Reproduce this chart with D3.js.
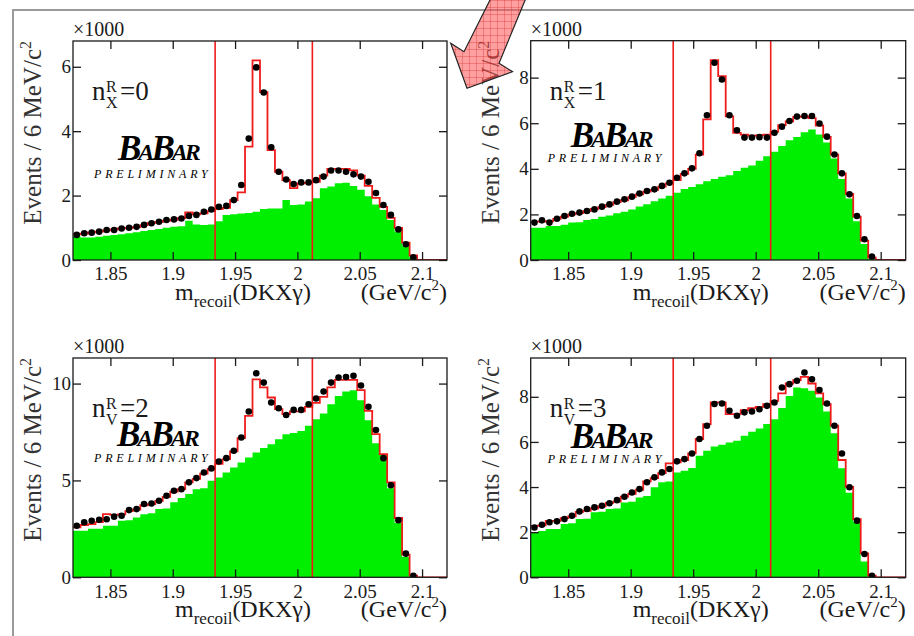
<!DOCTYPE html>
<html>
<head>
<meta charset="utf-8">
<script src="https://cdn.jsdelivr.net/npm/d3@7"></script>
<style>
  html, body { margin: 0; padding: 0; background: #fff; }
  svg { display: block; font-family: "Liberation Serif", "Times New Roman", Times, serif; }
</style>
</head>
<body>
<div id="chart"></div>
<script>
// ---------- binning / axes ----------
const xLo = 1.82, xHi = 2.12, binW = 0.006;          // 50 bins of 6 MeV
const xTicks = [1.85, 1.9, 1.95, 2, 2.05, 2.1];
const cutLines = [1.934, 2.012];
const panelIndex = ["0", "1", "2", "3"];
const panelSub = ["X", "X", "V", "V"];
const yMax = [6.8, 9.62, 11.32, 9.72];
const yTicks = [[0, 2, 4, 6], [0, 2, 4, 6, 8], [0, 5, 10], [0, 2, 4, 6, 8]];

// ---------- values (x1000 events / bin) ----------
// green: background, red: total fit, dots: data
const bkg0 = [0.74,0.70,0.70,0.72,0.75,0.78,0.80,0.83,0.86,0.90,0.93,0.96,1.00,1.03,1.05,1.22,1.10,1.09,1.10,1.20,
  1.40,1.42,1.44,1.46,1.50,1.58,1.60,1.60,1.86,1.71,1.72,1.82,1.92,2.23,2.28,2.38,2.40,2.30,2.18,1.98,
  1.72,1.55,1.24,0.88,0.45,0.08,0,0,0,0];
const fit0 = [0.80,0.82,0.86,0.88,0.92,0.95,0.98,1.00,1.02,1.08,1.15,1.18,1.22,1.25,1.30,1.48,1.42,1.45,1.52,1.58,
  1.62,1.86,2.10,3.52,6.20,5.21,3.41,2.74,2.48,2.23,2.38,2.40,2.43,2.62,2.83,2.83,2.83,2.78,2.62,2.30,
  1.93,1.65,1.31,1.00,0.54,0.14,0,0,0,0];
const data0 = [0.78,0.83,0.85,0.88,0.93,0.93,0.98,1.00,1.03,1.09,1.14,1.19,1.24,1.26,1.29,1.37,1.40,1.50,1.57,1.65,
  1.68,1.86,2.33,3.77,5.98,5.20,3.50,2.74,2.50,2.36,2.41,2.41,2.48,2.59,2.78,2.78,2.74,2.66,2.59,2.43,
  2.08,1.71,1.40,0.95,0.49,0.08,null,null,null,null];

const bkg1 = [1.42,1.42,1.49,1.49,1.55,1.64,1.66,1.75,1.80,1.90,1.95,2.05,2.12,2.22,2.35,2.45,2.58,2.70,2.82,2.95,
  3.12,3.20,3.32,3.45,3.55,3.65,3.72,3.90,4.05,4.15,4.35,4.55,4.75,5.00,5.25,5.40,5.60,5.72,5.50,5.15,
  4.45,3.55,2.70,1.70,0.70,0.05,0,0,0,0];
const fit1 = [1.68,1.68,1.70,1.80,1.90,2.00,2.06,2.14,2.24,2.32,2.42,2.54,2.62,2.76,2.88,3.00,3.08,3.22,3.36,3.50,
  3.78,4.00,4.62,6.17,8.77,8.07,6.30,5.58,5.50,5.45,5.47,5.50,5.62,5.92,6.08,6.28,6.30,6.22,5.90,5.40,
  4.62,3.80,2.90,1.90,0.85,0.10,0,0,0,0];
const data1 = [1.64,1.74,1.64,1.81,1.93,2.03,2.08,2.15,2.22,2.34,2.44,2.56,2.66,2.78,2.92,3.03,3.10,3.25,3.39,3.61,
  3.80,4.02,4.68,6.35,8.65,7.92,6.35,5.69,5.37,5.37,5.39,5.37,5.58,5.85,6.10,6.29,6.32,6.32,5.99,5.41,
  4.63,3.80,2.88,1.93,0.91,0.15,null,null,null,null];

const bkg2 = [2.40,2.40,2.50,2.50,2.66,2.66,2.92,2.95,3.09,3.26,3.30,3.52,3.55,3.87,4.09,4.30,4.55,4.60,4.98,5.15,
  5.41,5.67,5.93,6.19,6.44,6.67,6.87,7.13,7.39,7.45,7.55,7.82,8.16,8.45,8.93,9.36,9.59,9.66,9.14,8.11,
  6.92,6.31,4.60,2.80,1.05,0.05,0,0,0,0];
const fit2 = [2.58,2.70,2.75,2.85,3.26,3.22,3.25,3.42,3.50,3.72,3.78,3.95,4.15,4.42,4.55,4.90,5.08,5.35,5.60,5.85,
  6.10,6.50,7.18,8.33,10.22,9.80,9.28,8.68,8.42,8.56,8.56,8.80,9.00,9.31,9.80,10.19,10.19,10.19,9.66,8.59,
  7.39,6.36,4.90,3.06,1.17,0.09,0,0,0,0];
const data2 = [2.66,2.84,2.92,2.97,3.00,3.13,3.18,3.47,3.52,3.78,3.81,3.95,4.21,4.47,4.55,4.90,5.12,5.41,5.62,5.98,
  6.15,6.53,7.22,8.56,10.53,10.05,9.02,8.73,8.38,8.64,8.64,8.93,9.23,9.59,10.05,10.31,10.34,10.40,9.90,8.80,
  7.60,6.15,4.75,2.95,1.22,0.08,null,null,null,null];

const bkg3 = [2.00,2.05,2.14,2.14,2.36,2.40,2.58,2.60,2.88,2.90,3.03,3.05,3.32,3.35,3.54,3.60,3.99,4.21,4.25,4.65,
  4.72,4.85,5.39,5.61,5.80,5.88,5.98,6.05,6.27,6.45,6.60,6.80,7.01,7.50,8.04,8.41,8.38,8.27,7.97,7.35,
  6.38,4.83,3.75,2.45,0.70,0,0,0,0,0];
const fit3 = [2.28,2.30,2.50,2.50,2.62,2.70,2.90,2.95,3.05,3.15,3.30,3.35,3.58,3.70,3.88,4.25,4.40,4.62,5.05,5.09,
  5.20,5.49,6.13,6.79,7.75,7.75,7.23,7.23,7.41,7.50,7.55,7.67,7.82,8.15,8.59,8.74,8.88,8.59,8.15,7.67,
  6.72,5.20,4.01,2.58,1.06,0.07,0,0,0,0];
const data3 = [2.21,2.33,2.44,2.48,2.58,2.73,2.92,3.03,3.10,3.17,3.28,3.42,3.57,3.76,3.91,4.21,4.43,4.65,4.80,5.14,
  5.24,5.49,6.13,6.72,7.68,7.70,7.38,7.16,7.31,7.35,7.45,7.60,7.75,8.41,8.56,8.71,9.08,8.78,8.30,7.70,
  6.72,5.49,3.99,2.51,1.03,0.07,null,null,null,null];

const bkgSets = [bkg0, bkg1, bkg2, bkg3];
const fitSets = [fit0, fit1, fit2, fit3];
const dataSets = [data0, data1, data2, data3];

// ---------- layout ----------
const W = 914, H = 636;
const SERIF = '"Liberation Serif", "Times New Roman", Times, serif';
const BOXES = [
  { x0: 73, x1: 447, y0: 41, y1: 260 },
  { x0: 530.7, x1: 905.7, y0: 40.7, y1: 260 },
  { x0: 73, x1: 447, y0: 358, y1: 577.3 },
  { x0: 530.7, x1: 905.7, y0: 358, y1: 577.3 },
];
// [logo dx, logo dy, prelim dx, prelim dy] from plot top-left
const LOGO = [[45, 119, 21, 137], [40, 106, 17, 121], [44, 88, 21, 104], [40, 90, 17, 105]];

const GREEN = "#00ee00", RED = "#f01c1c", INK = "#1a1a1a";

const svg = d3.select("#chart").append("svg")
  .attr("width", W).attr("height", H)
  .attr("font-family", SERIF);

// pattern for the hatched arrow
const defs = svg.append("defs");
const pat = defs.append("pattern").attr("id", "grid").attr("patternUnits", "userSpaceOnUse")
  .attr("width", 7).attr("height", 7);
pat.append("rect").attr("width", 7).attr("height", 7).attr("fill", "rgba(255,80,80,0.55)");
pat.append("path").attr("d", "M0,0H7M0,0V7").attr("stroke", "rgba(200,20,20,0.7)").attr("stroke-width", 0.8);

// outer slide frame
svg.append("path").attr("d", "M13,636V10H914").attr("fill", "none").attr("stroke", "#9a9a9a").attr("stroke-width", 2);

function renderPanel(i) {
  const b = BOXES[i];
  const bkg = bkgSets[i], fit = fitSets[i], pts = dataSets[i];
  const g = svg.append("g");

  const x = d3.scaleLinear().domain([xLo, xHi]).range([b.x0, b.x1]);
  const y = d3.scaleLinear().domain([0, yMax[i]]).range([b.y1, b.y0]);

  const clipId = "clip" + i;
  defs.append("clipPath").attr("id", clipId).append("rect")
    .attr("x", b.x0).attr("y", b.y0).attr("width", b.x1 - b.x0).attr("height", b.y1 - b.y0);

  const steps = (arr) => arr.map((v, k) => [xLo + k * binW, v]).concat([[xHi, arr[arr.length - 1]]]);

  const plot = g.append("g").attr("clip-path", `url(#${clipId})`);

  // background (green filled histogram)
  plot.append("path")
    .datum(steps(bkg))
    .attr("fill", GREEN)
    .attr("d", d3.area().curve(d3.curveStepAfter).x((d) => x(d[0])).y0(y(0)).y1((d) => y(d[1])));

  // signal window
  plot.selectAll("line.cut").data(cutLines).enter().append("line")
    .attr("x1", (d) => x(d)).attr("x2", (d) => x(d))
    .attr("y1", b.y0).attr("y2", b.y1)
    .attr("stroke", RED).attr("stroke-width", 1.6);

  // total fit (red step line)
  plot.append("path")
    .datum(steps(fit))
    .attr("fill", "none").attr("stroke", RED).attr("stroke-width", 1.8)
    .attr("d", d3.line().curve(d3.curveStepAfter).x((d) => x(d[0])).y((d) => y(d[1])));

  // data points
  plot.selectAll("circle").data(pts.map((v, k) => ({ k, v })).filter((d) => d.v !== null))
    .enter().append("circle")
    .attr("cx", (d) => x(xLo + (d.k + 0.5) * binW))
    .attr("cy", (d) => y(d.v))
    .attr("r", 3.3)
    .attr("fill", "#000");

  // axes (ticks inside the frame)
  const fmt = (d) => String(d);
  const styleAxis = (sel) => {
    sel.select(".domain").remove();
    sel.attr("font-family", SERIF).attr("font-size", 19);
    sel.selectAll(".tick line").attr("stroke", INK).attr("stroke-width", 1.3);
    sel.selectAll(".tick text").attr("fill", INK);
  };
  g.append("g").attr("transform", `translate(0,${b.y1})`)
    .call(d3.axisBottom(x).tickValues(xTicks).tickSize(-8).tickPadding(7).tickFormat(fmt)).call(styleAxis);
  g.append("g").attr("transform", `translate(0,${b.y0})`)
    .call(d3.axisTop(x).tickValues(xTicks).tickSize(-8).tickFormat("")).call(styleAxis);
  g.append("g").attr("transform", `translate(${b.x0},0)`)
    .call(d3.axisLeft(y).tickValues(yTicks[i]).tickSize(-8).tickPadding(2).tickFormat(fmt)).call(styleAxis);
  g.append("g").attr("transform", `translate(${b.x1},0)`)
    .call(d3.axisRight(y).tickValues(yTicks[i]).tickSize(-8).tickFormat("")).call(styleAxis);

  g.append("rect")
    .attr("x", b.x0).attr("y", b.y0).attr("width", b.x1 - b.x0).attr("height", b.y1 - b.y0)
    .attr("fill", "none").attr("stroke", INK).attr("stroke-width", 1.3);

  // exponent
  g.append("text").attr("x", b.x0).attr("y", b.y0 - 5)
    .attr("font-size", 20).attr("fill", INK).text("\u00d71000");

  // y title
  const yt = g.append("text")
    .attr("transform", `translate(${b.x0 - 32},${b.y0}) rotate(-90)`)
    .attr("text-anchor", "end").attr("font-size", 25).attr("fill", "#333");
  yt.append("tspan").text("Events / 6 MeV/c");
  yt.append("tspan").attr("font-size", 16).attr("dy", -10).text("2");

  // x title
  const xt = g.append("text").attr("x", b.x0 + 102).attr("y", b.y1 + 40)
    .attr("font-size", 24).attr("fill", INK);
  xt.append("tspan").text("m");
  xt.append("tspan").attr("font-size", 17).attr("dy", 7).text("recoil");
  xt.append("tspan").attr("dy", -7).text("(DKX\u03b3)");

  const ut = g.append("text").attr("x", b.x1).attr("y", b.y1 + 40)
    .attr("text-anchor", "end").attr("font-size", 24).attr("fill", INK);
  ut.append("tspan").text("(GeV/c");
  ut.append("tspan").attr("font-size", 15).attr("dy", -10).text("2");
  ut.append("tspan").attr("dy", 10).text(")");

  // multiplicity label n^R_X = k
  const lx = b.x0 + 19, ly = b.y0 + 59;
  g.append("text").attr("x", lx).attr("y", ly).attr("font-size", 27).attr("fill", INK).text("n");
  g.append("text").attr("x", lx + 14).attr("y", ly - 8).attr("font-size", 16).attr("fill", INK).text("R");
  g.append("text").attr("x", lx + 14).attr("y", ly + 8).attr("font-size", 16).attr("fill", INK).text(panelSub[i]);
  g.append("text").attr("x", lx + 28).attr("y", ly).attr("font-size", 27).attr("fill", INK)
    .text("=" + panelIndex[i]);

  // BaBar logo
  const [ldx, ldy, pdx, pdy] = LOGO[i];
  const logo = g.append("text").attr("x", b.x0 + ldx).attr("y", b.y0 + ldy)
    .attr("font-style", "italic").attr("font-weight", "bold").attr("fill", "#000")
    .attr("letter-spacing", -3);
  logo.append("tspan").attr("font-size", 35).text("B");
  logo.append("tspan").attr("font-size", 24).text("A");
  logo.append("tspan").attr("font-size", 35).text("B");
  logo.append("tspan").attr("font-size", 24).text("AR");
  g.append("text").attr("x", b.x0 + pdx).attr("y", b.y0 + pdy)
    .attr("font-style", "italic").attr("font-size", 12).attr("letter-spacing", 3.8).attr("fill", "#000")
    .text("PRELIMINARY");
}

[0, 1, 2, 3].forEach(renderPanel);

// red hatched arrow pointing at the top-right panel
svg.append("polygon")
  .attr("points", "491,-2 464,51.7 450.7,43.3 467,88.3 512.5,71.7 499,63.3 526,-2")
  .attr("fill", "url(#grid)").attr("stroke", "#222").attr("stroke-width", 1.2);
</script>
</body>
</html>
